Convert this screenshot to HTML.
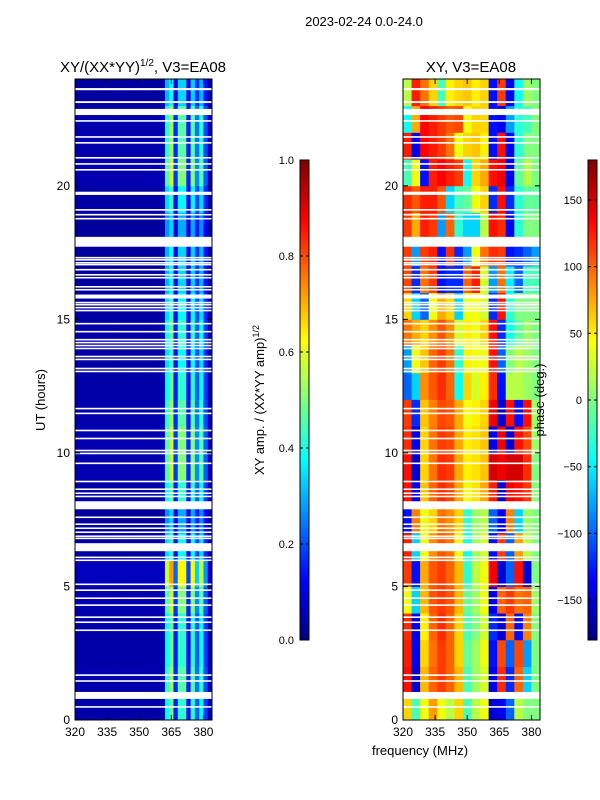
<!DOCTYPE html>
<html><head><meta charset="utf-8"><style>
body{margin:0;background:#fff;}
svg{display:block;font-family:"Liberation Sans",sans-serif;}
</style></head><body>
<svg id="c" width="600" height="800">
<rect width="600" height="800" fill="#fff"/>
<text x="364" y="26" font-size="13" text-anchor="middle">2023-02-24 0.0-24.0</text>
<text x="143" y="72" font-size="15" text-anchor="middle">XY/(XX*YY)<tspan font-size="10" dy="-6">1/2</tspan><tspan dy="6">, V3=EA08</tspan></text>
<text x="471" y="72" font-size="15" text-anchor="middle">XY, V3=EA08</text>
<text transform="translate(45,400) rotate(-90)" font-size="13" text-anchor="middle">UT (hours)</text>
<text x="420" y="755" font-size="13" text-anchor="middle">frequency (MHz)</text>
<text transform="translate(264,400) rotate(-90)" font-size="13" text-anchor="middle">XY amp. / (XX*YY amp)<tspan font-size="9" dy="-5">1/2</tspan></text>
<g id="g1"></g>
<g id="g2"></g>
<g id="cb"></g>
<g id="ax"></g>
<text transform="translate(544,400) rotate(-90)" font-size="13" text-anchor="middle">phase (deg.)</text>
</svg>
<script>
const ampColBase=[0.04,0.04,0.04,0.04,0.04,0.04,0.04,0.04,0.04,0.04,0.04,0.04,0.04,0.04,0.04,0.04,0.04,0.04,0.04,0.04,0.05,0.38,0.48,0.15,0.42,0.42,0.13,0.42,0.22,0.38,0.18,0.05];
const ampRowGain=[1,1.1,1,1,1.2,1.5,0.9,0.7,1.0,1.2,1.2,1.1,1.0,0.9,1.0,0.9,0.8,0.8,0.7,0.9,1.2,1.1,1.1,0.8];
const phaseGrid=[
[60,-20,40,80,40,20,60,-20,20,40,-150,-140,-100,20,0,0],
[130,-150,70,100,115,100,70,-20,10,30,-140,120,-120,100,-60,0],
[125,-140,60,95,115,100,60,-10,10,40,-130,110,-100,110,-80,0],
[120,-140,50,100,120,100,60,-20,0,30,-120,-150,100,-130,90,0],
[40,-60,70,105,115,105,70,-10,10,40,-140,100,115,95,100,10],
[115,-130,75,105,115,100,70,-30,20,40,140,-150,-100,130,-150,0],
[125,-60,40,85,105,95,40,-40,10,30,-130,115,-100,80,20,0],
[-130,90,40,60,95,85,60,-30,10,20,-100,-140,90,-60,10,0],
[130,-140,65,100,120,110,75,40,55,75,125,-150,140,130,115,0],
[130,-150,60,95,120,115,75,50,55,65,150,140,150,150,120,0],
[120,-140,60,95,115,110,75,50,55,65,-140,140,-150,130,110,10],
[115,-120,65,90,110,105,75,40,50,60,140,-150,130,-130,130,10],
[-100,-60,85,105,120,100,-40,60,30,50,120,-130,20,20,10,0],
[-80,40,65,100,115,95,-30,50,40,40,130,-100,0,20,10,0],
[95,75,60,85,105,85,30,50,40,60,130,-120,-40,-10,10,0],
[60,-60,-100,40,75,60,-60,40,40,30,-120,130,-30,0,0,0],
[110,-120,95,115,-130,-120,-120,100,125,30,-80,95,-50,-100,-20,-20],
[115,-80,115,125,-130,120,-120,-80,40,95,120,115,-130,-120,-100,-80],
[115,75,125,115,-80,100,-30,-60,-60,20,130,120,-140,-30,0,0],
[120,105,125,125,105,-60,-20,-10,40,60,-120,130,-120,-30,-10,-10],
[-20,40,-130,125,135,125,115,-40,60,75,130,140,-140,-10,20,0],
[125,-140,135,125,115,95,40,60,65,50,-130,130,-140,-30,0,0],
[-40,75,135,125,115,105,110,40,60,60,-130,-140,-80,-30,-20,0],
[20,125,95,60,-20,50,60,65,50,60,-130,115,-140,-40,10,0]];
const gapHours=[[23.58,23.66],[23.1,23.17],[22.65,22.88],[22.4,22.46],[21.8,21.86],[21.58,21.64],[21.02,21.08],[20.79,20.85],[20.57,20.63],[19.66,19.78],[19.07,19.13],[18.89,18.95],[18.74,18.8],[17.72,18.09],[17.28,17.34],[17.2,17.26],[17.09,17.15],[17.02,17.08],[16.83,16.89],[16.64,16.7],[16.53,16.59],[16.19,16.25],[16.08,16.14],[15.78,15.93],[15.6,15.66],[15.52,15.58],[15.41,15.47],[15.3,15.36],[14.81,14.87],[14.51,14.57],[14.21,14.27],[14.1,14.16],[13.99,14.05],[13.88,13.94],[13.58,13.64],[13.47,13.53],[13.13,13.19],[13.02,13.08],[11.63,11.69],[11.45,11.51],[10.81,10.87],[10.51,10.57],[10.06,10.12],[9.95,10.01],[9.58,9.64],[8.9,8.96],[8.61,8.67],[8.46,8.52],[8.34,8.4],[7.89,8.19],[7.56,7.62],[7.3,7.36],[7.15,7.21],[7.0,7.06],[6.85,6.91],[6.77,6.83],[6.32,6.62],[6.06,6.12],[5.95,6.01],[5.05,5.11],[4.83,4.89],[4.53,4.59],[4.27,4.33],[3.82,3.88],[3.63,3.69],[3.33,3.39],[1.65,1.71],[1.43,1.49],[0.79,1.05],[0.46,0.52]];
const xTicks=[320,335,350,365,380];
const yTicks=[0,5,10,15,20];
const ampTicks=[0.0,0.2,0.4,0.6,0.8,1.0];
const phaseTicks=[-150,-100,-50,0,50,100,150];

const NS='http://www.w3.org/2000/svg';
const TOP=79,BOT=720,FMIN=320,FMAX=384,HMAX=24;
const P1=75,P2=403,PW=137;
function yS(h){return BOT-(h/HMAX)*(BOT-TOP);}
function xS(f,x0){return x0+(f-FMIN)/(FMAX-FMIN)*PW;}
function jet(v){v=Math.max(0,Math.min(1,v));
 const r=Math.max(0,Math.min(1,1.5-Math.abs(4*v-3))),g=Math.max(0,Math.min(1,1.5-Math.abs(4*v-2))),b=Math.max(0,Math.min(1,1.5-Math.abs(4*v-1)));
 return 'rgb('+Math.round(r*255)+','+Math.round(g*255)+','+Math.round(b*255)+')';}
function mk(tag,at,par){const e=document.createElementNS(NS,tag);for(const k in at)e.setAttribute(k,at[k]);par.appendChild(e);return e;}
const g1=document.getElementById('g1'),g2=document.getElementById('g2'),cb=document.getElementById('cb'),ax=document.getElementById('ax');
const aw=(FMAX-FMIN)/ampColBase.length;
for(let r=0;r<ampRowGain.length;r++){for(let c=0;c<ampColBase.length;c++){
 const x0=xS(FMIN+c*aw,P1),x1=xS(FMIN+(c+1)*aw,P1),y0=yS(r+1),y1=yS(r);
 const e=mk('rect',{x:x0,y:y0,width:x1-x0+0.4,height:y1-y0+0.4,fill:jet(ampColBase[c]*ampRowGain[r])},g1);
 
 
}}
const pw=(FMAX-FMIN)/phaseGrid[0].length;
for(let r=0;r<phaseGrid.length;r++){for(let c=0;c<phaseGrid[r].length;c++){
 const x0=xS(FMIN+c*pw,P2),x1=xS(FMIN+(c+1)*pw,P2),y0=yS(r+1),y1=yS(r);
 const e=mk('rect',{x:x0,y:y0,width:x1-x0+0.4,height:y1-y0+0.4,fill:jet((phaseGrid[r][c]+180)/360)},g2);
 
 
}}
for(const p of [P1,P2]){for(const gp of gapHours){
 const e=mk('rect',{x:p,y:yS(gp[1]),width:PW,height:yS(gp[0])-yS(gp[1]),fill:'#fff'},p===P1?g1:g2);
 
 
}}
for(const p of [P1,P2]){
 const f=mk('rect',{x:p,y:TOP,width:PW,height:BOT-TOP,fill:'none',stroke:'#000','stroke-width':1},ax);
 
 
 for(const t of xTicks){const x=xS(t,p);
  mk('line',{x1:x,x2:x,y1:BOT,y2:BOT-5,stroke:'#000'},ax);mk('line',{x1:x,x2:x,y1:TOP,y2:TOP+5,stroke:'#000'},ax);
  const l=mk('text',{x:x,y:BOT+16,'font-size':12,'text-anchor':'middle'},ax);l.textContent=t;
  
  }
 for(const t of yTicks){const y=yS(t);
  mk('line',{x1:p,x2:p+5,y1:y,y2:y,stroke:'#000'},ax);mk('line',{x1:p+PW,x2:p+PW-5,y1:y,y2:y,stroke:'#000'},ax);
  const l=mk('text',{x:p-5,y:y+4,'font-size':12,'text-anchor':'end'},ax);l.textContent=t;
  
  }
}
const CT=160,CB=640;
for(const [cx,ticks,lo,hi] of [[300,ampTicks,0,1],[588,phaseTicks,-180,180]]){
 for(let i=0;i<120;i++){const y0=CB-(i+1)*(CB-CT)/120;
  mk('rect',{x:cx,y:y0,width:9,height:(CB-CT)/120+0.5,fill:jet((i+0.5)/120)},cb);}
 const f=mk('rect',{x:cx,y:CT,width:9,height:CB-CT,fill:'none',stroke:'#000'},cb);
 
 
 for(const t of ticks){const y=CB-(t-lo)/(hi-lo)*(CB-CT);
  mk('line',{x1:cx,x2:cx+3,y1:y,y2:y,stroke:'#000'},cb);mk('line',{x1:cx+9,x2:cx+6,y1:y,y2:y,stroke:'#000'},cb);
  const l=mk('text',{x:cx-6,y:y+4,'font-size':11,'text-anchor':'end'},cb);
  l.textContent=(lo===0?t.toFixed(1):(t<0?'\u2212'+(-t):t));
  
  }
}
</script>
</body></html>
